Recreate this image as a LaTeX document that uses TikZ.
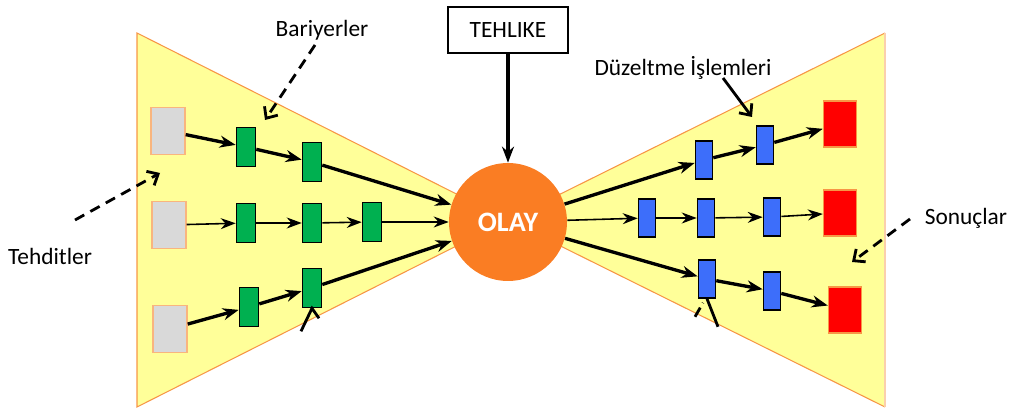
\documentclass[tikz,border=0pt]{standalone}
\usepackage{fontspec}
\setmainfont{Carlito}
\usepackage{xcolor}
\usetikzlibrary{arrows.meta}
\definecolor{fanc}{HTML}{FFFF99}
\definecolor{edgec}{HTML}{F79646}
\definecolor{olayc}{HTML}{FA7D23}
\definecolor{thrc}{HTML}{D9D9D9}
\definecolor{barc}{HTML}{00B050}
\definecolor{corc}{HTML}{3D6EFA}
\definecolor{resc}{HTML}{FF0000}
\tikzset{
  ar/.style={-{Stealth[length=3.2mm,width=2.4mm]},line width=1.9pt},
  arl/.style={-{Stealth[length=3mm,width=2.2mm]},line width=0.9pt},
  dar/.style={-{Straight Barb[length=1.8mm,width=3.2mm]},line width=1.6pt,dash pattern=on 6pt off 4pt},
  thr/.style={draw=edgec!70,fill=thrc,line width=0.8pt,minimum width=6.8mm,minimum height=9.4mm,inner sep=0pt},
  bar/.style={draw=black,fill=barc,line width=0.9pt,minimum width=3.8mm,minimum height=7.8mm,inner sep=0pt},
  cor/.style={draw=black,fill=corc,line width=0.9pt,minimum width=3.4mm,minimum height=7.6mm,inner sep=0pt},
  res/.style={draw=edgec,fill=resc,line width=0.8pt,minimum width=6.6mm,minimum height=9.2mm,inner sep=0pt},
  lbl/.style={font=\fontsize{13.3}{16}\selectfont}
}

\begin{document}
\begin{tikzpicture}[x=0.02cm,y=-0.02cm]
\useasboundingbox (0,0) rectangle (1011,408);
% the two halves of the bow tie
\filldraw[fill=fanc,draw=edgec,line width=0.6pt] (137,33) -- (508,220) -- (137,407) -- cycle;
\filldraw[fill=fanc,draw=edgec,line width=0.6pt] (885,33) -- (508,220) -- (885,407);
\draw[edgec!45,line width=0.8pt] (885,33) -- (885,407);

\node[draw,fill=white,line width=0.6pt,minimum width=2.4cm,minimum height=0.92cm,lbl] (hzd) at (508,30) {TEHLIKE};

% threats and barriers
\node[thr] (t1) at (168,131) {};
\node[thr] (t2) at (169,225) {};
\node[thr] (t3) at (170,329) {};
\node[bar] (b11) at (246,147) {};
\node[bar] (b12) at (312,162) {};
\node[bar] (b21) at (246,223) {};
\node[bar] (b22) at (312,223) {};
\node[bar] (b23) at (372,222) {};
\node[bar] (b31) at (249,307) {};
\node[bar] (b32) at (312,288) {};

% corrective steps and results
\node[cor] (c11) at (704,160) {};
\node[cor] (c12) at (765,145) {};
\node[cor] (c21) at (647,218) {};
\node[cor] (c22) at (706,218) {};
\node[cor] (c23) at (772,217) {};
\node[cor] (c31) at (707,279) {};
\node[cor] (c32) at (772,291) {};
\node[res] (s1) at (840,124) {};
\node[res] (s2) at (840,213) {};
\node[res] (s3) at (845,310) {};

\node[circle,fill=olayc,minimum size=2.36cm,inner sep=0pt,text=white,font=\fontsize{16}{18}\selectfont\bfseries] (olay) at (508,222) {OLAY};

\draw[ar] (hzd) -- (olay);
\draw[ar] (t1) -- (b11);
\draw[ar] (b11) -- (b12);
\draw[ar] (b12) -- (olay);
\draw[arl] (t2) -- (b21);
\draw[arl] (b21) -- (b22);
\draw[arl] (b22) -- (b23);
\draw[arl] (b23) -- (olay);
\draw[ar] (t3) -- (b31);
\draw[ar] (b31) -- (b32);
\draw[ar] (b32) -- (olay);

\draw[ar] (olay) -- (c11);
\draw[ar] (c11) -- (c12);
\draw[ar] (c12) -- (s1);
\draw[arl] (olay) -- (c21);
\draw[arl] (c21) -- (c22);
\draw[arl] (c22) -- (c23);
\draw[arl] (c23) -- (s2);
\draw[ar] (olay) -- (c31);
\draw[ar] (c31) -- (c32);
\draw[ar] (c32) -- (s3);

% labels
\node[lbl] (barl) at (322,30) {Bariyerler};
\node[lbl] (thrl) at (50,256) {Tehditler};
\node[lbl] (corl) at (683,68) {Düzeltme İşlemleri};
\node[lbl] (resl) at (966,218) {Sonuçlar};
\coordinate (barA) at (315,45);
\coordinate (barB) at (265,120);
\coordinate (thrA) at (75,220);
\coordinate (thrB) at (160,173);
\coordinate (corA) at (723,78);
\coordinate (corB) at (752,117);
\coordinate (resA) at (910,219);
\coordinate (resB) at (852,262);
\draw[dar] (barA) -- (barB);
\draw[dar] (thrA) -- (thrB);
\draw[dar] (resA) -- (resB);
\draw[-{Straight Barb[length=1.8mm,width=3.2mm]},line width=1.6pt] (corA) -- (corB);

% cut-off pointers below
\draw[line width=1.6pt] (b32.south) ++(-11,23) -- (b32.south) -- ++(7,10);
\draw[line width=1.6pt,dash pattern=on 6pt off 3pt] (c31.south) ++(-12,18) -- ++(8,-14);
\draw[line width=1.6pt] (c31.south) -- ++(11,28);
\end{tikzpicture}
\end{document}
